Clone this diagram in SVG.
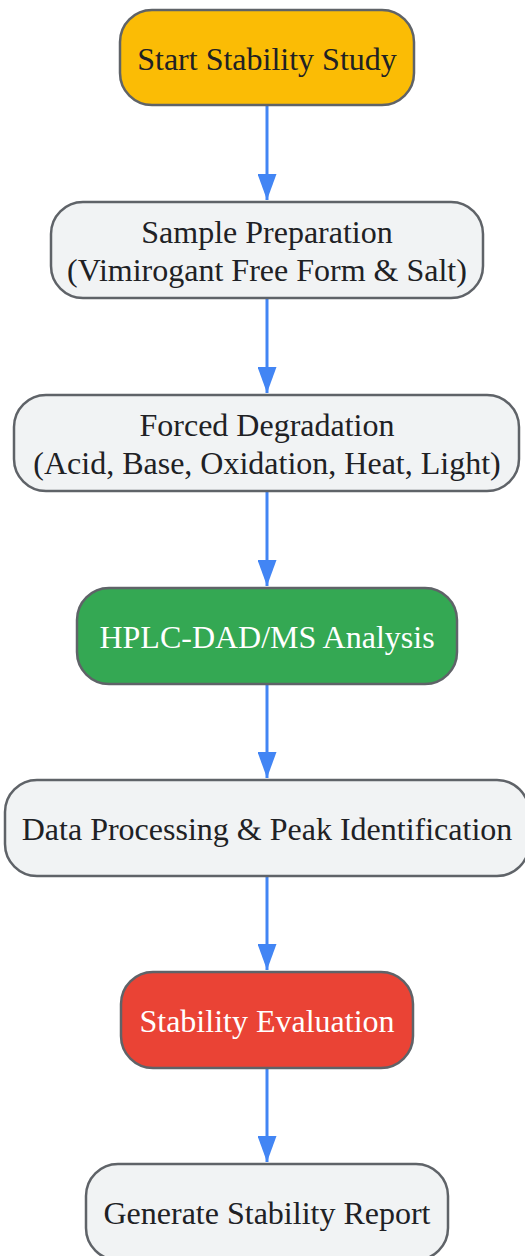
<svg xmlns="http://www.w3.org/2000/svg" width="525" height="1256" viewBox="0 0 525 1256">
<style>
.box{stroke:#5f6368;stroke-width:2.5}
.grey{fill:#f1f3f4}
.t{font-family:"Liberation Serif","Times New Roman",serif;font-size:32px;text-anchor:middle;fill:#202124}
.w{fill:#ffffff}
.e{stroke:#4285f4;stroke-width:3;fill:none}
</style>
<defs>
<marker id="arr" viewBox="0 0 26 19" refX="26" refY="9.5" markerWidth="26" markerHeight="19" markerUnits="userSpaceOnUse" orient="auto">
<path d="M0,0L26,9.5L0,19z" fill="#4285f4"/>
</marker>
</defs>
<g id="edges">
<line class="e" x1="267" y1="105" x2="267" y2="200" marker-end="url(#arr)"/>
<line class="e" x1="267" y1="298" x2="267" y2="393" marker-end="url(#arr)"/>
<line class="e" x1="267" y1="491" x2="267" y2="586" marker-end="url(#arr)"/>
<line class="e" x1="267" y1="684" x2="267" y2="778" marker-end="url(#arr)"/>
<line class="e" x1="267" y1="876" x2="267" y2="970" marker-end="url(#arr)"/>
<line class="e" x1="267" y1="1068" x2="267" y2="1162" marker-end="url(#arr)"/>
</g>
<g id="start">
<rect class="box" x="120" y="10" width="294" height="95" rx="32" fill="#fbbc05"/>
<text class="t" x="267" y="70">Start Stability Study</text>
</g>
<g id="prep">
<rect class="box grey" x="51" y="202" width="432" height="96" rx="32"/>
<text class="t" x="267" y="243">Sample Preparation</text>
<text class="t" x="267" y="281">(Vimirogant Free Form &amp; Salt)</text>
</g>
<g id="forced">
<rect class="box grey" x="14" y="395" width="505" height="96" rx="32"/>
<text class="t" x="267" y="436">Forced Degradation</text>
<text class="t" x="267" y="474">(Acid, Base, Oxidation, Heat, Light)</text>
</g>
<g id="hplc">
<rect class="box" x="77" y="588" width="380" height="96" rx="32" fill="#34a853"/>
<text class="t w" x="267" y="648">HPLC-DAD/MS Analysis</text>
</g>
<g id="data">
<rect class="box grey" x="5" y="780" width="524" height="96" rx="32"/>
<text class="t" x="267" y="840">Data Processing &amp; Peak Identification</text>
</g>
<g id="eval">
<rect class="box" x="121" y="972" width="292" height="96" rx="32" fill="#ea4335"/>
<text class="t w" x="267" y="1032">Stability Evaluation</text>
</g>
<g id="report">
<rect class="box grey" x="86" y="1164" width="362" height="96" rx="32"/>
<text class="t" x="267" y="1224">Generate Stability Report</text>
</g>
</svg>
